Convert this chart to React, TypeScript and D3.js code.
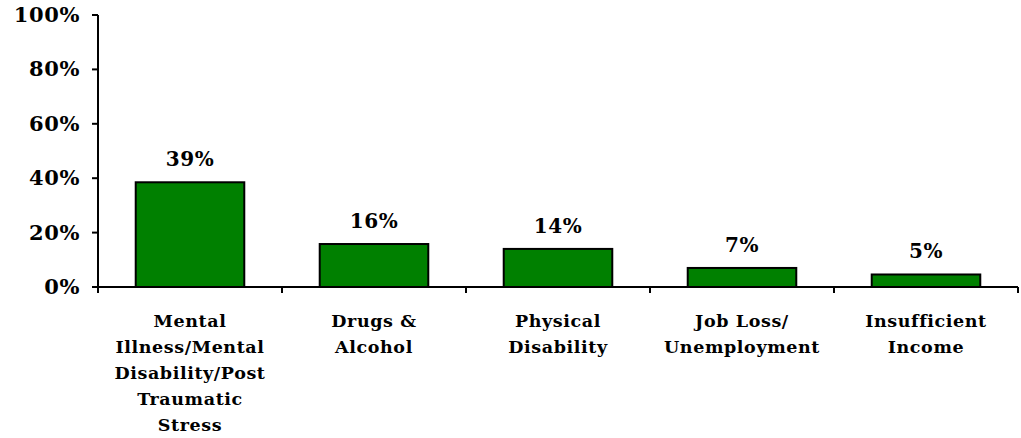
import React from "react";
import * as d3 from "d3";

const categories: string[][] = [
  ["Mental", "Illness/Mental", "Disability/Post", "Traumatic", "Stress"],
  ["Drugs &", "Alcohol"],
  ["Physical", "Disability"],
  ["Job Loss/", "Unemployment"],
  ["Insufficient", "Income"],
];
const values: number[] = [38.5, 15.8, 14, 7, 4.6];
const valueLabels: string[] = ["39%", "16%", "14%", "7%", "5%"];
const yTicks: number[] = [0, 20, 40, 60, 80, 100];

export default function App() {
  const W = 1021, H = 438;
  const left = 98, right = 1018, top = 15, bottom = 287;
  const font = "'DejaVu Serif', Georgia, serif";
  const x = d3.scaleBand<number>().domain(d3.range(values.length)).range([left, right]).paddingInner(0.41).paddingOuter(0.205);
  const y = d3.scaleLinear().domain([0, 100]).range([bottom, top]);
  const step = (right - left) / values.length;
  const tickXs = d3.range(values.length + 1).map((i) => left + i * step);
  return (
    <svg width={W} height={H} style={{ position: "absolute", left: 0, top: 0, background: "#fff" }}>
      {values.map((v, i) => (
        <rect key={i} x={x(i)!} y={y(v)} width={x.bandwidth()} height={bottom - y(v)} fill="#008000" stroke="#000" strokeWidth={2} />
      ))}
      <line x1={left} x2={left} y1={top} y2={bottom + 6} stroke="#000" strokeWidth={2} />
      <line x1={left} x2={right} y1={bottom} y2={bottom} stroke="#000" strokeWidth={2} />
      {yTicks.map((t) => (
        <g key={t}>
          <line x1={left - 6} x2={left} y1={y(t)} y2={y(t)} stroke="#000" strokeWidth={2} />
          <text x={80} y={y(t) + 7} textAnchor="end" fontFamily={font} fontWeight="bold" fontSize={21} letterSpacing={0.6}>{t}%</text>
        </g>
      ))}
      {tickXs.map((tx, i) => (
        <line key={i} x1={tx} x2={tx} y1={bottom} y2={bottom + 6} stroke="#000" strokeWidth={2} />
      ))}
      {values.map((v, i) => (
        <text key={i} x={x(i)! + x.bandwidth() / 2} y={y(v) - 16} textAnchor="middle" fontFamily={font} fontWeight="bold" fontSize={20} letterSpacing={0.6}>{valueLabels[i]}</text>
      ))}
      {categories.map((lines, i) => (
        <text key={i} textAnchor="middle" fontFamily={font} fontWeight="bold" fontSize={17.5} letterSpacing={0.6}>
          {lines.map((l, j) => (
            <tspan key={j} x={x(i)! + x.bandwidth() / 2} y={327 + j * 26}>{l}</tspan>
          ))}
        </text>
      ))}
    </svg>
  );
}
